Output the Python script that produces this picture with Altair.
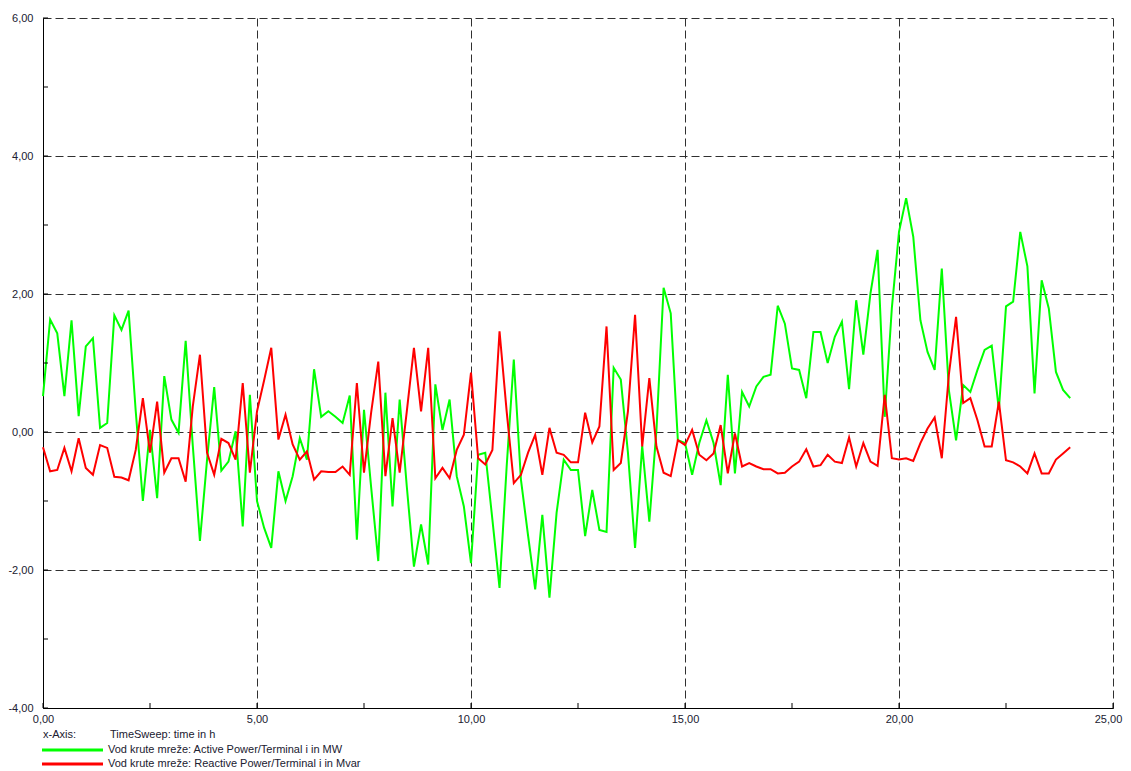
import altair as alt
import pandas as pd

# ---- data (10-minute samples over 24 h) ----
time_h = [round(i / 6, 4) for i in range(145)]

active_mw = [
    0.52, 1.63, 1.43, 0.52, 1.62, 0.23, 1.24, 1.36, 0.06, 0.13,
    1.69, 1.48, 1.76, 0.30, -1.00, 0.03, -0.96, 0.81, 0.18, -0.01,
    1.32, -0.20, -1.58, -0.40, 0.65, -0.56, -0.43, 0.01, -1.37, 0.54,
    -1.00, -1.39, -1.68, -0.57, -1.00, -0.64, -0.09, -0.40, 0.91, 0.22,
    0.30, 0.22, 0.13, 0.53, -1.56, 0.32, -0.80, -1.87, 0.57, -1.08,
    0.47, -0.79, -1.95, -1.34, -1.92, 0.69, 0.03, 0.47, -0.64, -1.08,
    -1.90, -0.33, -0.30, -1.27, -2.26, -0.50, 1.05, -0.69, -1.50, -2.28,
    -1.20, -2.40, -1.17, -0.40, -0.55, -0.55, -1.51, -0.84, -1.42, -1.45,
    0.93, 0.76, -0.30, -1.68, -0.20, -1.30, 0.03, 2.09, 1.72, -0.12,
    -0.16, -0.62, -0.16, 0.17, -0.16, -0.77, 0.83, -0.60, 0.58, 0.37,
    0.66, 0.80, 0.83, 1.83, 1.57, 0.92, 0.90, 0.49, 1.45, 1.45,
    1.00, 1.38, 1.60, 0.62, 1.91, 1.12, 2.01, 2.64, 0.22, 1.80,
    2.90, 3.39, 2.83, 1.62, 1.16, 0.90, 2.37, 0.60, -0.12, 0.68,
    0.58, 0.90, 1.19, 1.25, 0.32, 1.82, 1.89, 2.90, 2.40, 0.56,
    2.20, 1.79, 0.87, 0.61, 0.49,
]

reactive_mvar = [
    -0.22, -0.57, -0.55, -0.23, -0.57, -0.09, -0.52, -0.62, -0.19, -0.23,
    -0.65, -0.66, -0.70, -0.26, 0.49, -0.30, 0.44, -0.59, -0.38, -0.38,
    -0.72, 0.37, 1.12, -0.30, -0.62, -0.10, -0.16, -0.40, 0.71, -0.59,
    0.30, 0.75, 1.22, -0.11, 0.25, -0.18, -0.40, -0.28, -0.69, -0.57,
    -0.58, -0.58, -0.50, -0.62, 0.71, -0.59, 0.28, 1.02, -0.64, 0.20,
    -0.59, 0.30, 1.22, 0.30, 1.22, -0.67, -0.52, -0.67, -0.26, -0.04,
    0.86, -0.38, -0.47, -0.26, 1.46, 0.30, -0.74, -0.62, -0.30, -0.04,
    -0.62, 0.06, -0.30, -0.33, -0.44, -0.44, 0.28, -0.15, 0.08, 1.53,
    -0.55, -0.45, 0.30, 1.70, -0.21, 0.78, -0.21, -0.59, -0.64, -0.12,
    -0.19, 0.03, -0.33, -0.41, -0.31, 0.10, -0.60, -0.02, -0.50, -0.45,
    -0.50, -0.54, -0.54, -0.60, -0.59, -0.50, -0.43, -0.25, -0.50, -0.48,
    -0.33, -0.43, -0.45, -0.08, -0.50, -0.16, -0.43, -0.49, 0.54, -0.38,
    -0.40, -0.38, -0.42, -0.16, 0.05, 0.21, -0.38, 0.84, 1.67, 0.42,
    0.49, 0.17, -0.21, -0.21, 0.44, -0.41, -0.44, -0.50, -0.60, -0.31,
    -0.60, -0.60, -0.40, -0.31, -0.22,
]

series_names = [
    "Vod krute mreže: Active Power/Terminal i in MW",
    "Vod krute mreže: Reactive Power/Terminal i in Mvar",
]
series_colors = ["#00FF00", "#FF0000"]

x_major = [0, 5, 10, 15, 20, 25]
y_major = [-4, -2, 0, 2, 4, 6]
x_minor = [0, 2.5, 5, 7.5, 10, 12.5, 15, 17.5, 20, 22.5, 25]
y_minor = [-4, -3, -2, -1, 0, 1, 2, 3, 4, 5, 6]

x_axis_label = "x-Axis:"
x_axis_desc = "TimeSweep: time in h"

# ---- tables ----
df = pd.DataFrame({
    "t": time_h + time_h,
    "v": active_mw + reactive_mvar,
    "s": [series_names[0]] * len(time_h) + [series_names[1]] * len(time_h),
})
xt_df = pd.DataFrame({"t": x_minor})
yt_df = pd.DataFrame({"v": y_minor})

FONT = "Liberation Sans"
TXT = "#202030"
W, H = 1070, 690

label_expr = "(datum.value < 0 ? '-' : '') + replace(format(abs(datum.value), '.2f'), '.', ',')"

xs = alt.Scale(domain=[0, 25], nice=False, zero=False)
ys = alt.Scale(domain=[-4, 6], nice=False, zero=False)

common_axis = dict(
    title="", grid=True, gridDash=[8, 4], gridColor="#303030", gridWidth=1,
    ticks=False, tickSize=0, labelExpr=label_expr, labelFlush=False,
    labelOverlap=False, domainColor="#000000", domainWidth=1,
    labelFont=FONT, labelFontSize=11, labelColor=TXT,
)
x_axis = alt.Axis(
    values=x_major, labelPadding=5,
    labelOffset={"condition": {"test": "datum.value >= 25", "value": -5}, "value": 0},
    **common_axis,
)
y_axis = alt.Axis(values=y_major, labelPadding=10, **common_axis)

lines = alt.Chart(df).mark_line(strokeWidth=2).encode(
    x=alt.X("t:Q", scale=xs, axis=x_axis),
    y=alt.Y("v:Q", scale=ys, axis=y_axis),
    color=alt.Color("s:N", scale=alt.Scale(domain=series_names, range=series_colors), legend=None),
    detail="s:N",
)

xticks = alt.Chart(xt_df).mark_rule(color="#000000", strokeWidth=1).encode(
    x=alt.X("t:Q", scale=xs, axis=x_axis),
    y=alt.value(H),
    y2=alt.value(H - 5),
)
yticks = alt.Chart(yt_df).mark_rule(color="#000000", strokeWidth=1).encode(
    y=alt.Y("v:Q", scale=ys, axis=y_axis),
    x=alt.value(0),
    x2=alt.value(5),
)

hdr_df = pd.DataFrame({"a": [x_axis_label], "b": [x_axis_desc]})
hdr1 = alt.Chart(hdr_df).mark_text(align="left", baseline="middle", font=FONT, fontSize=11, color=TXT).encode(
    x=alt.value(0), y=alt.value(717), text="a:N")
hdr2 = alt.Chart(hdr_df).mark_text(align="left", baseline="middle", font=FONT, fontSize=11, color=TXT).encode(
    x=alt.value(67), y=alt.value(717), text="b:N")

leg_layers = []
for i, (name, col) in enumerate(zip(series_names, series_colors)):
    ldf = pd.DataFrame({"label": [name]})
    yy = 732 + 14 * i
    leg_layers.append(
        alt.Chart(ldf).mark_rule(strokeWidth=3, color=col).encode(
            x=alt.value(-1), x2=alt.value(60), y=alt.value(yy))
    )
    leg_layers.append(
        alt.Chart(ldf).mark_text(align="left", baseline="middle", font=FONT, fontSize=11, color=TXT).encode(
            x=alt.value(65), y=alt.value(yy), text="label:N")
    )

chart = alt.layer(lines, xticks, yticks, hdr1, hdr2, *leg_layers).properties(
    width=W, height=H,
    autosize=alt.AutoSizeParams(type="none"),
    padding={"left": 35, "top": 10, "right": 10, "bottom": 62},
    background="white",
).configure_view(stroke=None)

chart.save("out.html", embed_options={"renderer": "svg", "actions": False})
